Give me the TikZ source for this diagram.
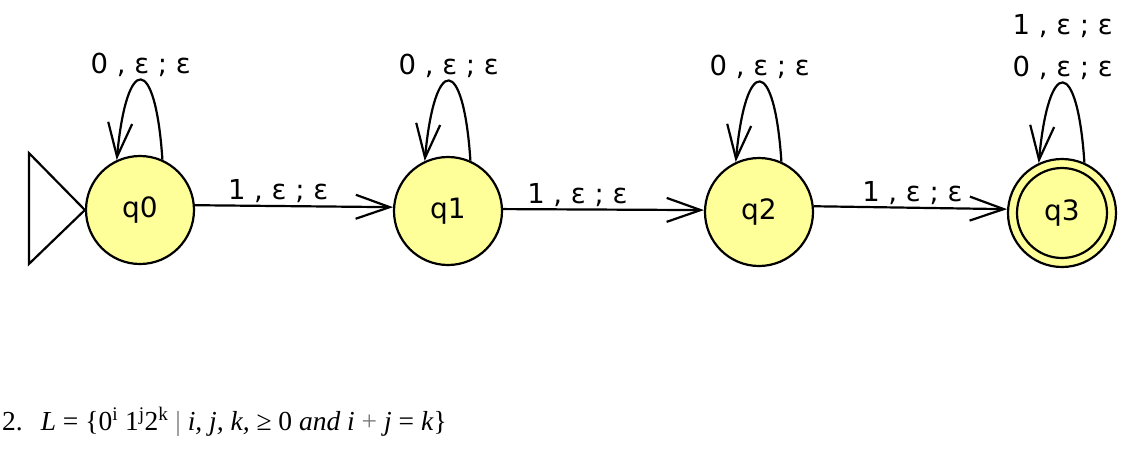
\documentclass[tikz,border=0pt]{standalone}
\usepackage{fontspec}
\setmainfont{DejaVu Sans}
\newfontfamily\lblfont{DejaVu Sans}
\newfontfamily\langfont{Liberation Serif}
\usetikzlibrary{positioning,arrows.meta}
\definecolor{statec}{RGB}{255,255,153}
\definecolor{barc}{RGB}{120,120,120}
\tikzset{
  stbox/.style   = {circle, draw, line width=2.2pt, fill=statec, minimum size=108pt,
                    inner sep=0pt, font=\fontsize{28}{30}\selectfont},
  finalst/.style = {stbox, path picture={\draw[line width=2.2pt]
                    (path picture bounding box.center) circle (45pt);}},
  flow/.style    = {-{Straight Barb[length=34pt,width=24pt]}, line width=2.2pt},
  initmark/.style= {line width=2.2pt, line join=miter},
  lbl/.style     = {font=\lblfont\fontsize{27.5}{30}\selectfont, inner sep=2pt, align=center},
}

\begin{document}
\begin{tikzpicture}[x=1pt, y=-1pt]
\useasboundingbox (0,0) rectangle (1144,469);

\node[stbox] (q0) at (140,210) {q0};
\node[stbox] (q1) at (448,211) {q1};
\node[stbox] (q2) at (759,212) {q2};
\node[finalst] (q3) at (1062,213) {q3};

% start marker
\draw[initmark] (q0.west) -- ++(-56,-57) -- ++(0,111) -- cycle;

\draw[flow] (q0.5) -- (q1.176) node[lbl, pos=0.42, above] (l01) {1 , ε ; ε};
\draw[flow] (q1.2) -- (q2.178) node[lbl, pos=0.37, above] (l12) {1 , ε ; ε};
\draw[flow] (q2.6) -- (q3.176) node[lbl, pos=0.51, above] (l23) {1 , ε ; ε};

% self loops
\foreach \s in {q0,q1,q2} {
  \draw[flow] (\s.66) .. controls +(-7,-106) and +(10,-107) .. (\s.115)
    node[lbl, pos=0.5, above] (lp\s) {0 , ε ; ε};
}
\draw[flow] (q3.66) .. controls +(-7,-106) and +(10,-107) .. (q3.115)
  node[lbl, pos=0.5, above] (lpq3) {1 , ε ; ε\\[12pt]0 , ε ; ε};

\node[anchor=base west, inner sep=0pt, font=\langfont\fontsize{27.5}{32}\selectfont] (lang) at (2,430)
  {2.\hspace{18pt}\textit{L} = \{0\textsuperscript{i} 1\textsuperscript{j}2\textsuperscript{k}
   {\color{barc}|} \textit{i, j, k,} ≥ 0 \textit{and i} {\color{barc}+} \textit{j} = \textit{k}\}};

\end{tikzpicture}
\end{document}
